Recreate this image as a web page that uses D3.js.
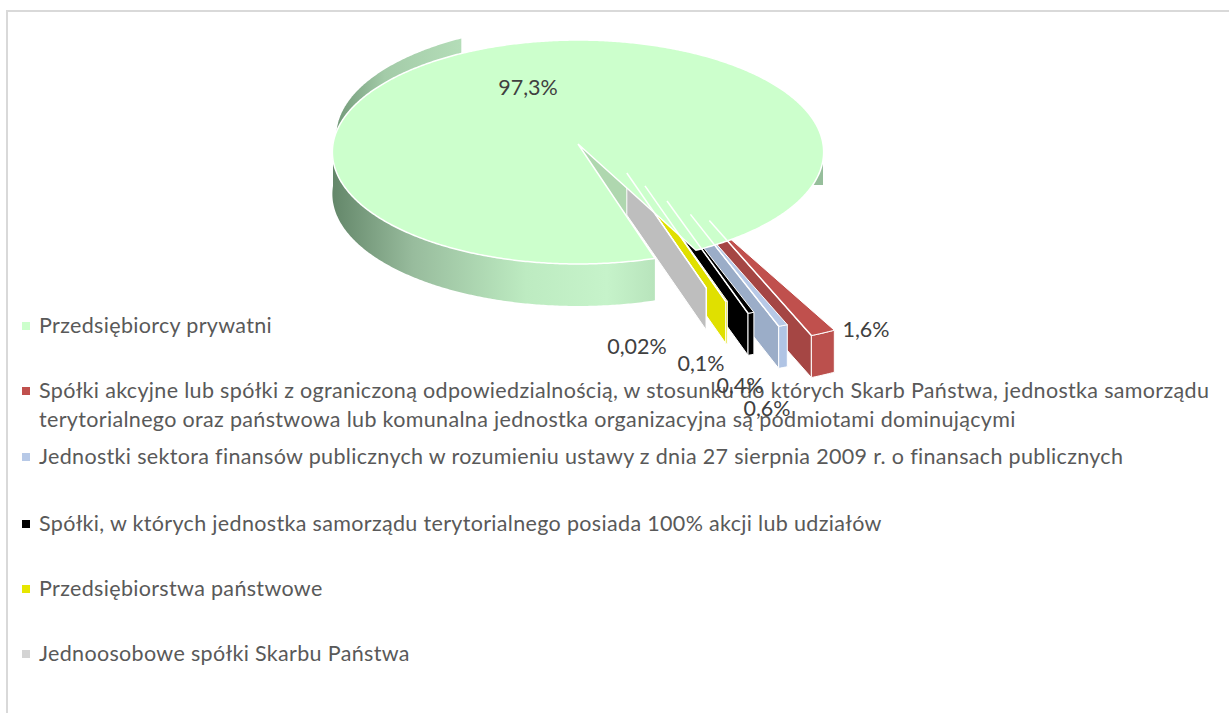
<!DOCTYPE html>
<html><head><meta charset="utf-8">
<script src="https://cdn.jsdelivr.net/npm/d3@7"></script>
<style>html,body{margin:0;padding:0;background:#fff;overflow:hidden}svg{display:block}text{font-family:Lato,"Open Sans",sans-serif}</style>
</head><body><div id="c"></div>
<script>
const categories = ["Przedsiębiorcy prywatni",
 "Spółki akcyjne lub spółki z ograniczoną odpowiedzialnością, w stosunku do których Skarb Państwa, jednostka samorządu|terytorialnego oraz państwowa lub komunalna jednostka organizacyjna są podmiotami dominującymi",
 "Jednostki sektora finansów publicznych w rozumieniu ustawy z dnia 27 sierpnia 2009 r. o finansach publicznych",
 "Spółki, w których jednostka samorządu terytorialnego posiada 100% akcji lub udziałów",
 "Przedsiębiorstwa państwowe",
 "Jednoosobowe spółki Skarbu Państwa"];
const values = [97.3, 1.6, 0.6, 0.4, 0.1, 0.02];
const valueLabels = ["97,3%", "1,6%", "0,6%", "0,4%", "0,1%", "0,02%"];
const topColors = ["#CCFFCC", "#C0504D", "#B7C9E7", "#000000", "#E6E600", "#BEBEBE"];
const wallColors = ["#AFD7AF", "#A54644", "#9BADC8", "#000000", "#E0E000", "#BEBEBE"];
const frontColors = ["#BDF0C2", "#BB504D", "#B0C4E4", "#000000", "#E0E000", "#BEBEBE"];
const swatchColors = ["#CCFFCC", "#C0504D", "#B7C9E7", "#000000", "#E6E600", "#D4D4D4"];
// explosion distance of each slice (share of the radius), its direction, and the slice radius
const explode = [0, 0.83, 0.747, 0.605, 0.453, 0.322];
const explodeDir = [0, 52, 54, 54.6, 54, 52.6];
const sliceRadius = [1, 0.94, 0.91, 0.92, 0.96, 0.97];
const legendRows = [326, 391, 457, 524, 589, 654];
const labelX = [528, 866, 767, 740, 701, 637];
const labelY = [88, 330, 409, 386, 364, 347];

const W = 1229, H = 713, cx = 578, cy = 144, R = 245, B = 111.4, K = 0.0714, depth = 42;
const startDeg = 73;
const rad = Math.PI / 180;
const xS = d3.scaleLinear().domain([-1, 1]).range([cx - R, cx + R]);
const yS = d3.scaleLinear().domain([-1, 1]).range([cy - B, cy + B]);
const proj = (u, v) => { const p = 1 / (1 - K * v); return [xS(u * p), yS(v * p)]; };
const pie = d3.pie().sort(null).startAngle(startDeg * rad).endAngle((startDeg + 360) * rad);
const arcs = pie(values);
const line = d3.line();

const svg = d3.select("#c").append("svg").attr("width", W).attr("height", H);
const defs = svg.append("defs");
function grad(id, x1, x2, stops) {
  const g = defs.append("linearGradient").attr("id", id).attr("gradientUnits", "userSpaceOnUse")
    .attr("x1", x1).attr("x2", x2).attr("y1", 0).attr("y2", 0);
  stops.forEach(s => g.append("stop").attr("offset", s[0]).attr("stop-color", s[1]));
}
svg.append("rect").attr("x", 7).attr("y", 11).attr("width", W + 10).attr("height", H + 20)
  .attr("fill", "#fff").attr("stroke", "#D9D9D9").attr("stroke-width", 2);

function slicePoint(i, t, r) {
  const d = explode[i], a = explodeDir[i] * rad;
  return proj(d * Math.cos(a) + r * Math.cos(t), d * Math.sin(a) + r * Math.sin(t));
}
function arcPts(i, t0, t1, r) {
  const n = Math.max(2, Math.ceil(Math.abs(t1 - t0) / (0.5 * rad)));
  return d3.range(n + 1).map(k => slicePoint(i, t0 + (t1 - t0) * k / n, r));
}
const down = p => [p[0], p[1] + depth];

// back strip of the main slice
const main = arcs[0];
const backEnd = 238.5 * rad;
const mainEdge = arcPts(0, 181 * rad, backEnd, 1);
const backShift = [4, -16];
const backPts = arcPts(0, 178 * rad, backEnd, 1).map(p => [p[0] + backShift[0], p[1] + backShift[1]]);
const bx = backPts[backPts.length - 1];
const backClose = [[bx[0], bx[1] + 40], [mainEdge[0][0] + 30, mainEdge[0][1]]];
grad("gBack", xS(-1), bx[0], [[0, "#6F9676"], [0.4, "#A3CBA8"], [1, "#B4DDB8"]]);
svg.append("path").attr("d", line(backPts.concat(backClose)) + "Z").attr("fill", "url(#gBack)");

// stray wall piece at the right
const rightTop = slicePoint(0, 21 * rad, 1);
svg.append("rect").attr("x", rightTop[0]).attr("y", cy).attr("width", xS(1) - rightTop[0]).attr("height", depth - 1)
  .attr("fill", "#96BE9B");

// front wall of the main slice
const frontPts = arcPts(0, 180 * rad, main.startAngle, 1);
grad("gMain", xS(-1), frontPts[frontPts.length - 1][0], [[0, "#64876A"], [0.25, "#98BC9D"], [0.6, "#BDEBC1"], [0.85, "#C6F3CA"], [1, "#B8E4BC"]]);
svg.append("path").attr("d", line(frontPts.concat(frontPts.map(down).reverse())) + "Z").attr("fill", "url(#gMain)");

// inner wall seen through the gap
const apex = slicePoint(0, 0, 0);
svg.append("path").attr("d", line([apex, slicePoint(0, main.startAngle, 0.7), slicePoint(0, main.endAngle, 0.7)]) + "Z")
  .attr("fill", wallColors[0]);

// exploded slices: right to left
const order = [1, 2, 3, 4, 5];
order.forEach(i => {
  const a = arcs[i], t0 = a.startAngle, t1 = a.endAngle, r = sliceRadius[i];
  const ap = slicePoint(i, 0, 0), o1 = slicePoint(i, t1, r);
  const top = [ap].concat(arcPts(i, t0, t1, r));
  const f = arcPts(i, t0, t1, r);
  const g = svg.append("g");
  g.append("path").attr("d", line([ap, o1, down(o1), down(ap)]) + "Z")
    .attr("fill", wallColors[i]).attr("stroke", "#fff").attr("stroke-width", 1);
  g.append("path").attr("d", line(f.concat(f.map(down).reverse())) + "Z")
    .attr("fill", frontColors[i]).attr("stroke", "#fff").attr("stroke-width", 1);
  g.append("path").attr("d", line(top) + "Z").attr("fill", topColors[i]).attr("stroke", "#fff").attr("stroke-width", 1);
});

// main top
const topPts = [apex].concat(arcPts(0, main.startAngle, main.endAngle, 1));
svg.append("path").attr("d", line(topPts) + "Z").attr("fill", topColors[0]).attr("stroke", "#fff").attr("stroke-width", 1.5);

// white seams that show through the main top
order.forEach(i => {
  svg.append("path").attr("d", line([slicePoint(i, 0, 0), slicePoint(i, arcs[i].endAngle, sliceRadius[i])]))
    .attr("fill", "none").attr("stroke", "#fff").attr("stroke-width", 1.5);
});

// legend
const fs = 21.5, color = "#595959";
categories.forEach((c, i) => {
  const y = legendRows[i];
  svg.append("rect").attr("x", 22).attr("y", y - 4).attr("width", 8).attr("height", 8).attr("fill", swatchColors[i]);
  c.split("|").forEach((t, j) => {
    svg.append("text").attr("x", 39).attr("y", y + 7 + j * 29).attr("font-size", fs).attr("letter-spacing", 0.33).attr("fill", color).text(t);
  });
});
// data labels
valueLabels.forEach((t, i) => {
  svg.append("text").attr("x", labelX[i]).attr("y", labelY[i] + 7).attr("text-anchor", "middle")
    .attr("font-size", fs).attr("fill", "#404040").text(t);
});
</script></body></html>
